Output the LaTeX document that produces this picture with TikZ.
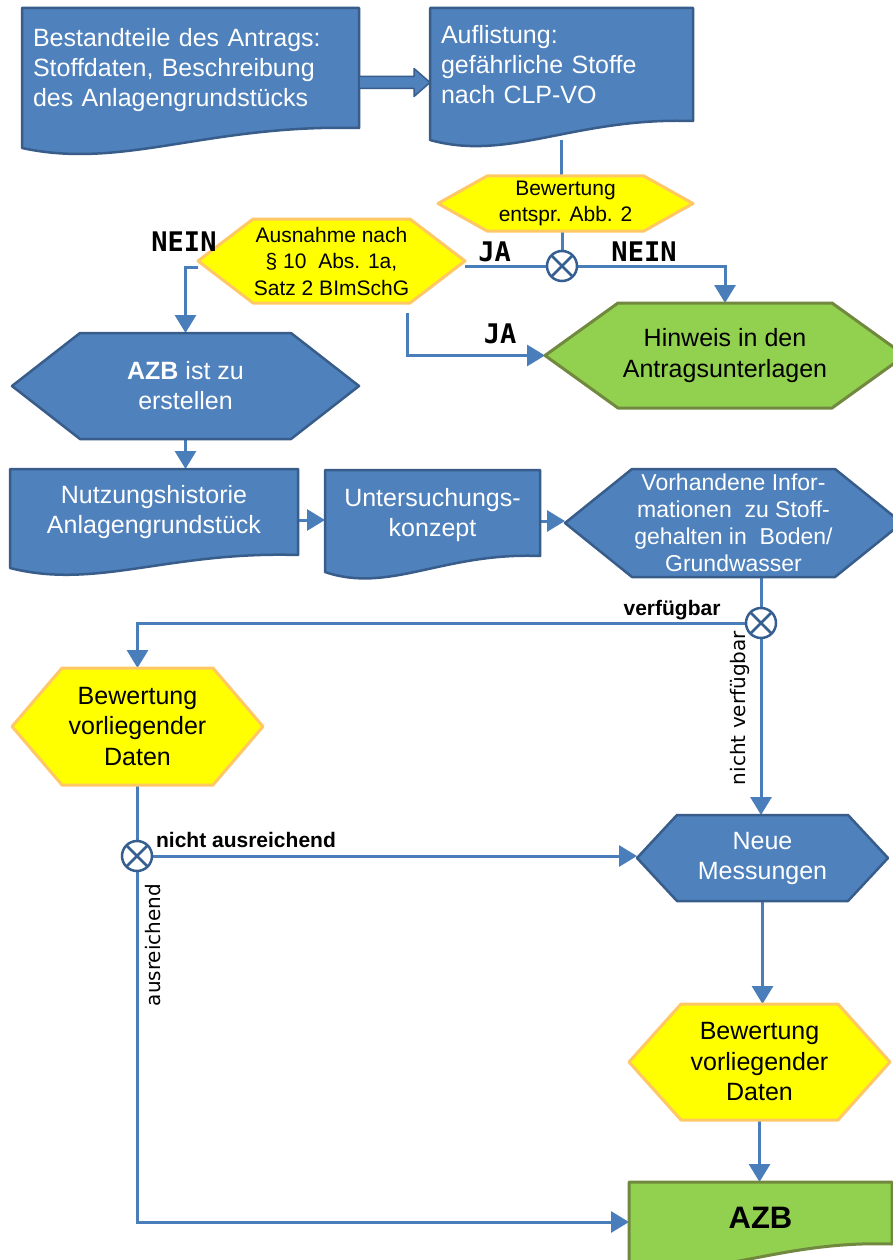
\documentclass[tikz,border=0pt]{standalone}
\usepackage{fontspec}
\setmainfont{Liberation Sans}
\newfontfamily\dvs{DejaVu Sans}
\newfontfamily\dvm{DejaVu Sans Mono}
\usetikzlibrary{arrows.meta,calc}
\definecolor{bfill}{HTML}{4F81BD}
\definecolor{bdraw}{HTML}{385D8A}
\definecolor{cline}{HTML}{4A7EBB}
\definecolor{xdraw}{HTML}{365F91}
\definecolor{yfill}{HTML}{FFFF00}
\definecolor{ydraw}{HTML}{FFC864}
\definecolor{gfill}{HTML}{92D050}
\definecolor{gdraw}{HTML}{71893F}
\pgfdeclarelayer{bglayer}
\pgfdeclarelayer{connlayer}
\pgfdeclarelayer{shapelayer}
\pgfsetlayers{bglayer,connlayer,shapelayer,main}
% document shape: L T R Bright Bleft style
\newcommand{\docshape}[6]{%
  \begin{pgfonlayer}{shapelayer}
  \filldraw[#6] (#1,#2) -- (#3,#2) -- (#3,#4)
    .. controls ({#1+0.55*(#3-#1)},{#4-4}) and ({#1+0.3*(#3-#1)},{#5+22}) .. (#1,#5) -- cycle;
  \end{pgfonlayer}}
% hexagon: cx cy a s h style
\newcommand{\hexshape}[6]{%
  \begin{pgfonlayer}{shapelayer}
  \filldraw[#6] ({#1-#3},#2) -- ({#1-#3+#4},{#2-#5}) -- ({#1+#3-#4},{#2-#5}) -- ({#1+#3},#2)
    -- ({#1+#3-#4},{#2+#5}) -- ({#1-#3+#4},{#2+#5}) -- cycle;
  \end{pgfonlayer}}
\tikzset{
  box/.style 2 args={inner sep=0pt, outer sep=0pt, minimum width=#1pt, minimum height=#2pt},
  wtxt/.style={inner sep=0pt, align=center, text=white, font=\fontsize{25}{30}\selectfont},
  btxt/.style={inner sep=0pt, align=center, text=black, font=\fontsize{25}{30.5}\selectfont},
  stxt/.style={inner sep=0pt, align=center, text=black, font=\fontsize{21}{26.5}\selectfont},
  bshape/.style={fill=bfill, draw=bdraw, line width=2.5pt, line join=round},
  yshape/.style={fill=yfill, draw=ydraw, line width=3pt, line join=round},
  gshape/.style={fill=gfill, draw=gdraw, line width=3pt, line join=round},
  conn/.style={draw=cline, line width=3pt},
  arr/.style={-{Triangle[length=18pt,width=21pt]}},
  xorc/.style={circle, draw=xdraw, fill=white, line width=2.5pt, minimum size=30pt, inner sep=0pt, outer sep=0pt},
  xline/.style={draw=xdraw, line width=2.5pt},
  lab/.style={font=\bfseries\fontsize{21}{24}\selectfont, inner sep=0pt},
  vlab/.style={font=\dvs\fontsize{20}{24}\selectfont, rotate=90, inner sep=0pt},
  jn/.style={font=\dvm\bfseries\fontsize{27}{30}\selectfont, inner sep=0pt},
}
\begin{document}
\begin{tikzpicture}[x=1pt,y=-1pt]
\begin{pgfonlayer}{bglayer}
\fill[white] (0,0) rectangle (893,1260);
\end{pgfonlayer}
\useasboundingbox (0,0) rectangle (893,1260);

% ---------- shapes ----------
\docshape{22}{8}{359}{128}{148}{bshape}
\node[box={337}{140}, label={[wtxt, yshift=8pt, text width=315pt, align=left, name=n1t]center:Bestandteile des Antrags:\\Stoffdaten, Beschreibung\\des Anlagengrundstücks}] (n1) at (190.5,78) {};

\docshape{430}{8}{693}{121}{140}{bshape}
\node[box={263}{132}, label={[wtxt, yshift=9pt, text width=241pt, align=left, name=n2t]center:Auflistung:\\gefährliche Stoffe\\nach CLP-VO}] (n2) at (561.5,74) {};

\hexshape{565.5}{203.5}{127.5}{49}{27.5}{yshape}
\node[box={255}{55}, stxt] (bew1) at (565.5,203.5) {Bewertung\\entspr. Abb. 2};

\hexshape{331.5}{261}{133.5}{55}{42}{yshape}
\node[box={267}{84}, stxt] (aus) at (331.5,261) {Ausnahme nach\\§ 10\ \ Abs. 1a,\\Satz 2 BImSchG};

\hexshape{725}{355.5}{180}{73}{52.5}{gshape}
\node[box={360}{105}, btxt] (hinw) at (725,355.5) {Hinweis in den\\Antragsunterlagen};

\hexshape{185.5}{386}{173.5}{68}{53}{bshape}
\node[box={347}{106}, wtxt] (azb1) at (185.5,386) {\textbf{AZB} ist zu\\erstellen};

\docshape{10}{469}{298}{555}{568}{bshape}
\node[box={288}{102}, label={[wtxt, yshift=7.5pt, name=nutzt]center:Nutzungshistorie\\Anlagengrundstück}] (nutz) at (154,520) {};

\docshape{325}{470}{540}{556}{572}{bshape}
\node[box={215}{102}, label={[wtxt, yshift=6pt, name=untt]center:Untersuchungs-\\konzept}] (unt) at (432.5,521) {};

\hexshape{733.5}{523}{168.5}{67}{54}{bshape}
\node[box={337}{108}, wtxt, font=\fontsize{23}{27}\selectfont] (vorh) at (733.5,523) {Vorhandene Infor-\\mationen\ \ zu Stoff-\\gehalten in\ \ Boden/\\Grundwasser};

\hexshape{137.5}{726.5}{125.5}{50}{58.5}{yshape}
\node[box={251}{117}, btxt] (bew2) at (137.5,726.5) {Bewertung\\vorliegender\\Daten};

\hexshape{762.5}{858}{125.5}{40}{43}{bshape}
\node[box={251}{86}, wtxt] (neue) at (762.5,858) {Neue\\Messungen};

\hexshape{759.5}{1062}{130.5}{52}{58}{yshape}
\node[box={261}{116}, btxt] (bew3) at (759.5,1062) {Bewertung\\vorliegender\\Daten};

\docshape{629}{1182}{892}{1244}{1262}{gshape}
\node[box={263}{80}, label={[inner sep=0pt, yshift=4pt, font=\bfseries\fontsize{31}{34}\selectfont, name=azb2t]center:AZB}] (azb2) at (760.5,1222) {};

% ---------- gateways ----------
\node[xorc] (xor1) at (562,266) {};
\node[xorc] (xor2) at (761,623) {};
\node[xorc] (xor3) at (137,856) {};
\foreach \g in {xor1,xor2,xor3}{
  \draw[xline] (\g.north west) -- (\g.south east) (\g.north east) -- (\g.south west);
}

% ---------- block arrow ----------
\coordinate (ba) at (0,82.5);
\filldraw[fill=bfill, draw=bdraw, line width=1.5pt, line join=round]
  ($(n1.east |- ba)+(0,-6)$) -- ($(n2.west |- ba)+(-16,-6)$) -- ($(n2.west |- ba)+(-16,-14)$)
  -- (n2.west |- ba) -- ($(n2.west |- ba)+(-16,14)$) -- ($(n2.west |- ba)+(-16,6)$)
  -- ($(n1.east |- ba)+(0,6)$) -- cycle;

% ---------- connectors ----------
\coordinate (ja2) at (407,313);
\begin{pgfonlayer}{connlayer}
\draw[conn] (n2.south) -- (n2.south |- bew1.north);
\draw[conn] (xor1.north |- bew1.south) -- (xor1.north);
\draw[conn] (xor1.west) -- (xor1.west -| aus.east);
\draw[conn,arr] (xor1.east) -| (hinw.north);
\draw[conn,arr] ([yshift=-6pt]aus.west) -| (azb1.north);
\draw[conn,arr] (ja2) |- (hinw.west);
\draw[conn,arr] (azb1.south) -- (azb1.south |- nutz.north);
\draw[conn,arr] (nutz.east) -- (nutz.east -| unt.west);
\draw[conn,arr] (unt.east) -- (unt.east -| vorh.west);
\draw[conn] (xor2.north |- vorh.south) -- (xor2.north);
\draw[conn,arr] (xor2.west) -| (bew2.north);
\draw[conn,arr] (xor2.south) -- (xor2.south |- neue.north);
\draw[conn] (xor3.north |- bew2.south) -- (xor3.north);
\draw[conn,arr] (xor3.east) -- (xor3.east -| neue.west);
\draw[conn,arr] (xor3.south) |- (azb2.west);
\draw[conn,arr] (neue.south) -- (neue.south |- bew3.north);
\draw[conn,arr] (bew3.south) -- (bew3.south |- azb2.north);
\end{pgfonlayer}

% ---------- labels ----------
\node[jn] (lneinl) at (184,242) {NEIN};
\node[jn] (lja1) at (494.5,252) {JA};
\node[jn] (lnein2) at (644,252) {NEIN};
\node[jn] (lja2) at (500,334) {JA};
\node[lab] (lverf) at (672,610) {verfügbar};
\node[vlab] (lnverf) at (740,708) {nicht verfügbar};
\node[lab] (lnaus) at (246,840) {nicht ausreichend};
\node[vlab] (laus) at (153,945) {ausreichend};
\end{tikzpicture}
\end{document}
